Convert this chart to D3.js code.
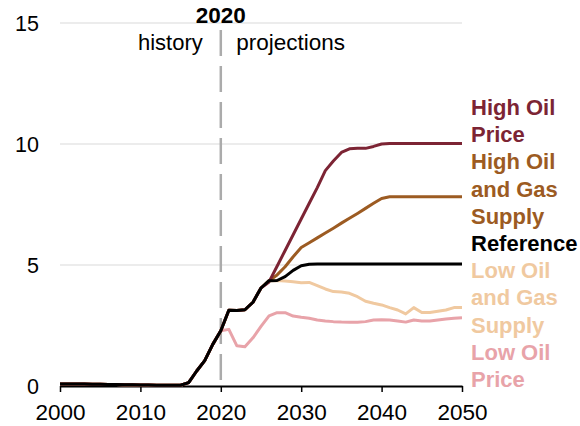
<!DOCTYPE html>
<html>
<head>
<meta charset="utf-8">
<script src="https://cdn.jsdelivr.net/npm/d3@7"></script>
<style>
  body { margin: 0; background: #fff; }
  svg text { font-family: "Liberation Sans", Arial, sans-serif; }
</style>
</head>
<body>
<svg id="chart"></svg>
<script>
(function (d3) {
  'use strict'
  // data
  const years = d3.range(2000, 2051)

  // shared history 2000-2020
  const history = [
    0.08, 0.08, 0.08, 0.08, 0.07, 0.07, 0.06, 0.06, 0.05, 0.05,
    0.04, 0.04, 0.03, 0.03, 0.03, 0.03, 0.14, 0.62, 1.05, 1.72, 2.28
  ]

  // projections 2021-2050
  const highOilPrice = [
    3.13, 3.12, 3.15, 3.46, 4.05, 4.3, 4.95, 5.6, 6.25, 6.9,
    7.55, 8.2, 8.9, 9.3, 9.65, 9.8, 9.82, 9.82, 9.9, 10.0,
    10.02, 10.02, 10.02, 10.02, 10.02, 10.02, 10.02, 10.02, 10.02, 10.02
  ]
  const highSupply = [
    3.13, 3.12, 3.15, 3.46, 4.05, 4.35, 4.59, 4.93, 5.34, 5.72,
    5.92, 6.12, 6.32, 6.52, 6.73, 6.93, 7.13, 7.34, 7.55, 7.75,
    7.82, 7.82, 7.82, 7.82, 7.82, 7.82, 7.82, 7.82, 7.82, 7.82
  ]
  const reference = [
    3.13, 3.12, 3.15, 3.46, 4.05, 4.35, 4.36, 4.52, 4.78, 4.97,
    5.03, 5.04, 5.04, 5.04, 5.04, 5.04, 5.04, 5.04, 5.04, 5.04,
    5.04, 5.04, 5.04, 5.04, 5.04, 5.04, 5.04, 5.04, 5.04, 5.04
  ]
  const lowSupply = [
    3.13, 3.12, 3.15, 3.46, 4.05, 4.35, 4.36, 4.34, 4.31, 4.27,
    4.28, 4.15, 4.01, 3.9, 3.88, 3.83, 3.69, 3.5, 3.42, 3.35,
    3.24, 3.14, 2.98, 3.24, 3.04, 3.04, 3.09, 3.14, 3.24, 3.24
  ]
  const lowOilPrice = [
    2.34, 1.66, 1.62, 1.99, 2.46, 2.9, 3.03, 3.03, 2.89, 2.84,
    2.8, 2.73, 2.69, 2.66, 2.64, 2.63, 2.63, 2.66, 2.73, 2.74,
    2.73, 2.69, 2.64, 2.73, 2.69, 2.69, 2.73, 2.77, 2.8, 2.82
  ]

  const yTicks = [0, 5, 10, 15]
  const xTicks = [2000, 2010, 2020, 2030, 2040, 2050]

  // drawn back to front, reference on top
  const series = [
    { name: 'Low Oil Price', color: '#E8A3A9', proj: lowOilPrice },
    { name: 'Low Oil and Gas Supply', color: '#F0C9A0', proj: lowSupply },
    { name: 'High Oil and Gas Supply', color: '#9C5B22', proj: highSupply },
    { name: 'High Oil Price', color: '#7C2434', proj: highOilPrice },
    { name: 'Reference', color: '#000000', proj: reference }
  ]

  // legend lines, top to bottom
  const legendLines = [
    { text: 'High Oil', color: '#7C2434' },
    { text: 'Price', color: '#7C2434' },
    { text: 'High Oil', color: '#9C5B22' },
    { text: 'and Gas', color: '#9C5B22' },
    { text: 'Supply', color: '#9C5B22' },
    { text: 'Reference', color: '#000000' },
    { text: 'Low Oil', color: '#F0C9A0' },
    { text: 'and Gas', color: '#F0C9A0' },
    { text: 'Supply', color: '#F0C9A0' },
    { text: 'Low Oil', color: '#E8A3A9' },
    { text: 'Price', color: '#E8A3A9' }
  ]

  // layout
  const W = 580
  const H = 426
  const x = d3.scaleLinear().domain([2000, 2050]).range([60, 462])
  const y = d3.scaleLinear().domain([0, 15]).range([386, 23])

  const svg = d3.select('#chart').attr('width', W).attr('height', H)

  // gridlines
  svg.append('g').selectAll('line')
    .data(yTicks.filter(d => d > 0))
    .enter().append('line')
    .attr('x1', x(2000)).attr('x2', x(2050))
    .attr('y1', d => y(d)).attr('y2', d => y(d))
    .attr('stroke', '#D9D9D9').attr('stroke-width', 1)

  // y labels
  svg.append('g').selectAll('text')
    .data(yTicks)
    .enter().append('text')
    .attr('x', 39).attr('y', d => y(d) + 7.5)
    .attr('text-anchor', 'end')
    .attr('font-size', 21.5)
    .attr('fill', '#000')
    .text(d => d)

  // history / projections divider
  svg.append('line')
    .attr('x1', x(2020)).attr('x2', x(2020))
    .attr('y1', 30).attr('y2', y(0))
    .attr('stroke', '#ABABAB').attr('stroke-width', 2.5)
    .attr('stroke-dasharray', '26,10')

  svg.append('text')
    .attr('x', x(2020)).attr('y', 22.5)
    .attr('text-anchor', 'middle')
    .attr('font-size', 22.5).attr('font-weight', 'bold')
    .text('2020')
  svg.append('text')
    .attr('x', x(2020) - 18).attr('y', 50)
    .attr('text-anchor', 'end')
    .attr('font-size', 22)
    .text('history')
  svg.append('text')
    .attr('x', x(2020) + 15.5).attr('y', 50)
    .attr('font-size', 22.5)
    .text('projections')

  // x axis
  const xAxis = d3.axisBottom(x)
    .tickValues(xTicks)
    .tickFormat(d3.format('d'))
    .tickSize(6)
    .tickSizeOuter(0)
  const gx = svg.append('g')
    .attr('transform', 'translate(0,' + y(0) + ')')
    .call(xAxis)
  gx.select('.domain').attr('stroke', '#000').attr('stroke-width', 2)
  gx.selectAll('.tick line').attr('stroke', '#000').attr('stroke-width', 1.5)
  gx.selectAll('.tick text')
    .attr('font-family', '"Liberation Sans", Arial, sans-serif')
    .attr('font-size', 22.5)
    .attr('fill', '#000')
    .attr('dy', 0)
    .attr('y', 33.5)

  // series lines
  const line = d3.line()
    .x((d, i) => x(years[i]))
    .y(d => y(d))

  svg.append('g').selectAll('path')
    .data(series)
    .enter().append('path')
    .attr('d', s => line(history.concat(s.proj)))
    .attr('fill', 'none')
    .attr('stroke', s => s.color)
    .attr('stroke-width', 3)
    .attr('stroke-linejoin', 'round')

  // legend on the right
  svg.append('g').selectAll('text')
    .data(legendLines)
    .enter().append('text')
    .attr('x', 471)
    .attr('y', (d, i) => 115 + i * 27.2)
    .attr('font-size', 22)
    .attr('font-weight', 'bold')
    .attr('fill', d => d.color)
    .text(d => d.text)

}(d3))
</script>
</body>
</html>
